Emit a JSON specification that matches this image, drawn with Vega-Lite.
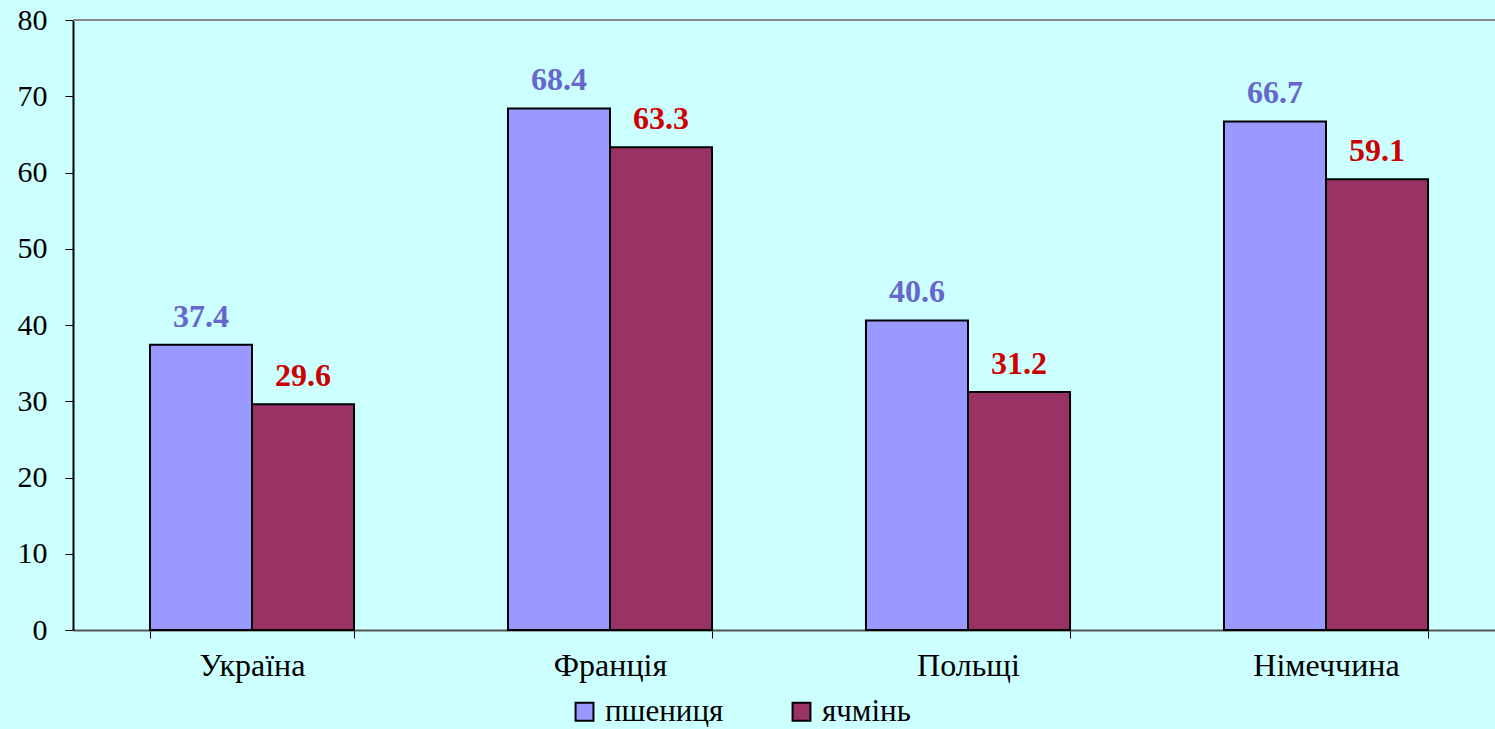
{
  "$schema": "https://vega.github.io/schema/vega-lite/v6.json",
  "autosize": "none",
  "width": 1422,
  "height": 610,
  "padding": {"left": 73, "top": 20, "right": 0, "bottom": 99},
  "background": "#CCFFFF",
  "config": {
    "view": {"stroke": null, "fill": "#CCFFFF"},
    "font": "Times New Roman, Liberation Serif, serif",
    "axis": {"labelFont": "Times New Roman, Liberation Serif, serif"},
    "legend": {"labelFont": "Times New Roman, Liberation Serif, serif"}
  },
  "data": {
    "values": [
      {"country": "Україна", "crop": "пшениця", "value": 37.4},
      {"country": "Україна", "crop": "ячмінь", "value": 29.6},
      {"country": "Франція", "crop": "пшениця", "value": 68.4},
      {"country": "Франція", "crop": "ячмінь", "value": 63.3},
      {"country": "Польщі", "crop": "пшениця", "value": 40.6},
      {"country": "Польщі", "crop": "ячмінь", "value": 31.2},
      {"country": "Німеччина", "crop": "пшениця", "value": 66.7},
      {"country": "Німеччина", "crop": "ячмінь", "value": 59.1}
    ]
  },
  "layer": [
    {
      "mark": {"type": "rule", "color": "#888888", "strokeWidth": 2},
      "encoding": {"y": {"datum": 80, "type": "quantitative", "scale": {"domain": [0, 80]}}}
    },
    {
      "mark": {"type": "bar", "stroke": "#000000", "strokeWidth": 2},
      "encoding": {
        "x": {
          "field": "country", "type": "nominal", "sort": null,
          "scale": {"paddingInner": 0.43, "paddingOuter": 0.215, "range": [0, 1432]},
          "axis": {
            "title": null, "labelAngle": 0, "labelFontSize": 32, "labelColor": "#000000",
            "labelPadding": 12, "tickBand": "extent", "tickColor": "#000000", "tickSize": 8,
            "domainColor": "#555555", "domainWidth": 2
          }
        },
        "xOffset": {"field": "crop", "type": "nominal", "sort": ["пшениця", "ячмінь"], "scale": {"paddingInner": 0, "paddingOuter": 0}},
        "y": {
          "field": "value", "type": "quantitative",
          "scale": {"domain": [0, 80], "nice": false},
          "axis": {
            "title": null, "values": [0, 10, 20, 30, 40, 50, 60, 70, 80], "grid": false,
            "labelFontSize": 30, "labelColor": "#000000", "labelPadding": 18,
            "tickColor": "#000000", "tickSize": 8, "domainColor": "#000000", "domainWidth": 2
          }
        },
        "color": {
          "field": "crop", "type": "nominal",
          "scale": {"domain": ["пшениця", "ячмінь"], "range": ["#9999FF", "#993366"]},
          "legend": {
            "title": null, "orient": "none", "direction": "horizontal",
            "legendX": 496, "legendY": 676, "padding": 0,
            "symbolType": "square", "symbolSize": 320, "symbolStrokeColor": "#000000", "symbolStrokeWidth": 2,
            "labelFontSize": 31, "labelColor": "#000000",
            "columnPadding": 62, "labelOffset": 5
          }
        }
      }
    },
    {
      "mark": {"type": "text", "fontSize": 32, "fontWeight": "bold", "baseline": "alphabetic", "dy": -18},
      "encoding": {
        "x": {"field": "country", "type": "nominal", "sort": null},
        "xOffset": {"field": "crop", "type": "nominal", "sort": ["пшениця", "ячмінь"]},
        "y": {"field": "value", "type": "quantitative"},
        "text": {"field": "value", "type": "quantitative", "format": ".1f"},
        "color": {"condition": {"test": "datum.crop === 'пшениця'", "value": "#6666CC"}, "value": "#CC0000"}
      }
    }
  ]
}
